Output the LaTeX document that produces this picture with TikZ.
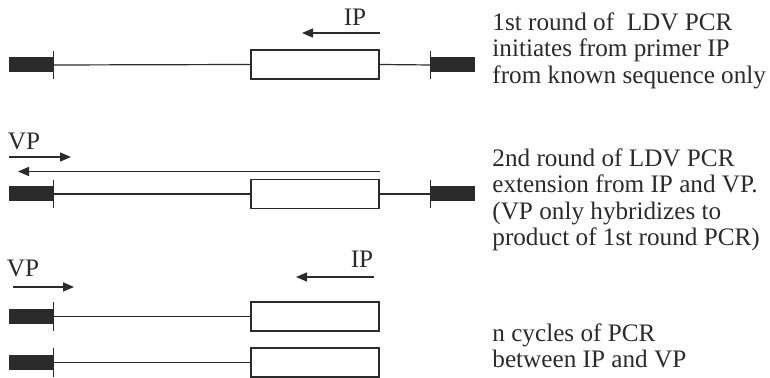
\documentclass[tikz,border=0pt]{standalone}
\usepackage{fontspec}
\setmainfont{Liberation Serif}
\usetikzlibrary{arrows.meta}
\definecolor{dnaInk}{HTML}{2B2B2B}
\tikzset{
  endblk/.style={fill=dnaInk, draw=none, minimum width=22pt, minimum height=7.5pt, inner sep=0pt},
  seqbox/.style={draw=dnaInk, line width=0.9pt, fill=white, minimum width=64pt,
    minimum height=14.5pt, inner sep=0pt},
  strand/.style={draw=dnaInk, line width=0.6pt},
  tickmark/.style={draw=dnaInk, line width=0.7pt},
  primerarrow/.style={-{Triangle[length=5.5pt,width=4.5pt]}, draw=dnaInk, line width=0.7pt},
  primerlabel/.style={font=\fontsize{12.6}{13.25}\selectfont, text=dnaInk, inner sep=0pt},
  roundtext/.style={font=\fontsize{12.6}{13.25}\selectfont, text=dnaInk, align=left,
    anchor=north west, inner sep=0pt},
}

\begin{document}
\begin{tikzpicture}[x=0.5pt, y=-0.5pt]
  \useasboundingbox (0,0) rectangle (770,378);
  % round 1
  \node[endblk] (l1) at (31,65) {};
  \node[seqbox] (b1) at (315,64.5) {};
  \node[endblk] (r1) at (453,65) {};
  \draw[strand] (l1.east) -- (b1.west) (b1.east) -- (r1.west);
  \draw[tickmark] ([yshift=7.2pt]l1.east) -- ([yshift=-7.2pt]l1.east);
  \draw[tickmark] ([yshift=7.2pt]r1.west) -- ([yshift=-7.2pt]r1.west);
  \node[primerlabel] (ip1) at (355,17) {IP};
  \coordinate (ip1s) at (380,33);
  \coordinate (ip1e) at (302,33);
  \draw[primerarrow] (ip1s) -- (ip1e);
  % round 2
  \node[primerlabel] (vp2) at (24,141) {VP};
  \coordinate (vp2s) at (9,157);
  \coordinate (vp2e) at (71,157);
  \draw[primerarrow] (vp2s) -- (vp2e);
  \coordinate (ext2s) at (380,171.5);
  \coordinate (ext2e) at (18,171.5);
  \draw[primerarrow] (ext2s) -- (ext2e);
  \node[endblk] (l2) at (31,194) {};
  \node[seqbox] (b2) at (315,194) {};
  \node[endblk] (r2) at (453,194) {};
  \draw[strand] (l2.east) -- (b2.west) (b2.east) -- (r2.west);
  \draw[tickmark] ([yshift=7.2pt]l2.east) -- ([yshift=-7.2pt]l2.east);
  \draw[tickmark] ([yshift=7.2pt]r2.west) -- ([yshift=-7.2pt]r2.west);
  % n cycles
  \node[primerlabel] (vp3) at (23,268) {VP};
  \coordinate (vp3s) at (13,287);
  \coordinate (vp3e) at (74,287);
  \draw[primerarrow] (vp3s) -- (vp3e);
  \node[primerlabel] (ip3) at (362,259) {IP};
  \coordinate (ip3s) at (374,277);
  \coordinate (ip3e) at (296,277);
  \draw[primerarrow] (ip3s) -- (ip3e);
  \foreach \y/\n in {316.5/a, 362.5/b} {
    \node[endblk] (l3\n) at (31,\y) {};
    \node[seqbox] (b3\n) at (315,\y) {};
    \draw[strand] (l3\n.east) -- (b3\n.west);
    \draw[tickmark] ([yshift=7.2pt]l3\n.east) -- ([yshift=-7.2pt]l3\n.east);
  }
  % descriptions
  \node[roundtext] (txt1) at (492,12) {1st round of\ \ LDV PCR\\initiates from primer IP\\from known sequence only};
  \node[roundtext] (txt2) at (492,148) {2nd round of LDV PCR\\extension from IP and VP.\\(VP only hybridizes to\\product of 1st round PCR)};
  \node[roundtext] (txt3) at (492,323) {n cycles of PCR\\between IP and VP};
\end{tikzpicture}
\end{document}
